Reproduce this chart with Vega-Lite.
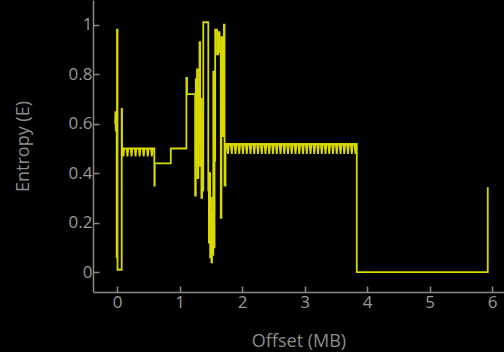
{
  "$schema": "https://vega.github.io/schema/vega-lite/v6.json",
  "width": 411,
  "height": 292,
  "autosize": {"type": "none"},
  "padding": {"left": 93, "top": 0, "right": 0, "bottom": 60},
  "background": "black",
  "config": {
    "view": {"stroke": null},
    "axis": {
      "grid": false,
      "domainColor": "#888888",
      "domainWidth": 1.5,
      "tickColor": "#888888",
      "tickWidth": 1.5,
      "tickSize": -6,
      "labelColor": "#999999",
      "labelFont": "Open Sans",
      "labelFontSize": 17,
      "titleColor": "#8c8c8c",
      "titleFont": "Open Sans",
      "titleFontSize": 18,
      "titleFontWeight": "normal"
    }
  },
  "data": {"values": [
    {"mb":-0.03,"e":0.60},{"mb":-0.025,"e":0.65},{"mb":-0.02,"e":0.57},{"mb":-0.015,"e":0.64},{"mb":-0.01,"e":0.58},{"mb":-0.005,"e":0.62},
    {"mb":-0.005,"e":0.06},{"mb":0.0,"e":0.06},{"mb":0.0,"e":0.98},{"mb":0.008,"e":0.98},{"mb":0.008,"e":0.01},{"mb":0.075,"e":0.01},{"mb":0.075,"e":0.66},{"mb":0.08,"e":0.66},{"mb":0.08,"e":0.50},
    {"mb":0.09,"e":0.50},{"mb":0.102,"e":0.468},{"mb":0.114,"e":0.50},
    {"mb":0.155,"e":0.50},{"mb":0.167,"e":0.468},{"mb":0.179,"e":0.50},
    {"mb":0.22,"e":0.50},{"mb":0.232,"e":0.468},{"mb":0.244,"e":0.50},
    {"mb":0.285,"e":0.50},{"mb":0.297,"e":0.468},{"mb":0.309,"e":0.50},
    {"mb":0.35,"e":0.50},{"mb":0.362,"e":0.468},{"mb":0.374,"e":0.50},
    {"mb":0.415,"e":0.50},{"mb":0.427,"e":0.468},{"mb":0.439,"e":0.50},
    {"mb":0.48,"e":0.50},{"mb":0.492,"e":0.468},{"mb":0.504,"e":0.50},
    {"mb":0.545,"e":0.50},{"mb":0.557,"e":0.468},{"mb":0.569,"e":0.50},
    {"mb":0.597,"e":0.50},{"mb":0.597,"e":0.35},{"mb":0.603,"e":0.35},{"mb":0.603,"e":0.44},{"mb":0.86,"e":0.44},{"mb":0.86,"e":0.50},
    {"mb":1.11,"e":0.50},{"mb":1.11,"e":0.785},{"mb":1.12,"e":0.785},{"mb":1.12,"e":0.72},{"mb":1.25,"e":0.72},
    {"mb":1.25,"e":0.31},{"mb":1.26,"e":0.31},{"mb":1.26,"e":0.78},{"mb":1.27,"e":0.78},{"mb":1.27,"e":0.44},{"mb":1.28,"e":0.44},{"mb":1.28,"e":0.82},{"mb":1.29,"e":0.82},{"mb":1.29,"e":0.38},{"mb":1.30,"e":0.38},{"mb":1.30,"e":0.74},{"mb":1.31,"e":0.74},{"mb":1.31,"e":0.52},{"mb":1.32,"e":0.52},{"mb":1.32,"e":0.93},{"mb":1.33,"e":0.93},{"mb":1.33,"e":0.43},{"mb":1.34,"e":0.43},{"mb":1.34,"e":0.70},{"mb":1.35,"e":0.70},{"mb":1.35,"e":0.30},{"mb":1.36,"e":0.30},{"mb":1.36,"e":0.62},{"mb":1.37,"e":0.62},{"mb":1.37,"e":0.33},{"mb":1.38,"e":0.33},
    {"mb":1.38,"e":1.01},{"mb":1.46,"e":1.01},{"mb":1.46,"e":0.33},{"mb":1.47,"e":0.33},{"mb":1.47,"e":0.12},{"mb":1.48,"e":0.12},{"mb":1.48,"e":0.40},{"mb":1.49,"e":0.40},{"mb":1.49,"e":0.06},{"mb":1.50,"e":0.06},{"mb":1.50,"e":0.30},{"mb":1.51,"e":0.30},{"mb":1.51,"e":0.04},{"mb":1.52,"e":0.04},{"mb":1.52,"e":0.24},{"mb":1.53,"e":0.24},{"mb":1.53,"e":0.07},{"mb":1.54,"e":0.07},{"mb":1.54,"e":0.81},{"mb":1.55,"e":0.81},{"mb":1.55,"e":0.10},{"mb":1.56,"e":0.10},{"mb":1.56,"e":0.45},{"mb":1.57,"e":0.45},
    {"mb":1.57,"e":0.98},{"mb":1.60,"e":0.98},{"mb":1.60,"e":0.88},{"mb":1.62,"e":0.88},{"mb":1.62,"e":0.97},{"mb":1.64,"e":0.97},{"mb":1.64,"e":0.89},{"mb":1.66,"e":0.89},{"mb":1.66,"e":0.22},{"mb":1.67,"e":0.22},{"mb":1.67,"e":0.95},{"mb":1.69,"e":0.95},{"mb":1.69,"e":0.55},{"mb":1.71,"e":0.55},{"mb":1.71,"e":1.0},{"mb":1.72,"e":1.0},{"mb":1.72,"e":0.35},{"mb":1.735,"e":0.35},{"mb":1.735,"e":0.518},
    {"mb":1.76,"e":0.518},{"mb":1.775,"e":0.478},{"mb":1.79,"e":0.518},
    {"mb":1.82,"e":0.518},{"mb":1.835,"e":0.478},{"mb":1.85,"e":0.518},
    {"mb":1.88,"e":0.518},{"mb":1.895,"e":0.478},{"mb":1.91,"e":0.518},
    {"mb":1.94,"e":0.518},{"mb":1.955,"e":0.478},{"mb":1.97,"e":0.518},
    {"mb":2.00,"e":0.518},{"mb":2.015,"e":0.478},{"mb":2.03,"e":0.518},
    {"mb":2.06,"e":0.518},{"mb":2.075,"e":0.478},{"mb":2.09,"e":0.518},
    {"mb":2.12,"e":0.518},{"mb":2.135,"e":0.478},{"mb":2.15,"e":0.518},
    {"mb":2.18,"e":0.518},{"mb":2.195,"e":0.478},{"mb":2.21,"e":0.518},
    {"mb":2.24,"e":0.518},{"mb":2.255,"e":0.478},{"mb":2.27,"e":0.518},
    {"mb":2.30,"e":0.518},{"mb":2.315,"e":0.478},{"mb":2.33,"e":0.518},
    {"mb":2.36,"e":0.518},{"mb":2.375,"e":0.478},{"mb":2.39,"e":0.518},
    {"mb":2.42,"e":0.518},{"mb":2.435,"e":0.478},{"mb":2.45,"e":0.518},
    {"mb":2.48,"e":0.518},{"mb":2.495,"e":0.478},{"mb":2.51,"e":0.518},
    {"mb":2.54,"e":0.518},{"mb":2.555,"e":0.478},{"mb":2.57,"e":0.518},
    {"mb":2.60,"e":0.518},{"mb":2.615,"e":0.478},{"mb":2.63,"e":0.518},
    {"mb":2.66,"e":0.518},{"mb":2.675,"e":0.478},{"mb":2.69,"e":0.518},
    {"mb":2.72,"e":0.518},{"mb":2.735,"e":0.478},{"mb":2.75,"e":0.518},
    {"mb":2.78,"e":0.518},{"mb":2.795,"e":0.478},{"mb":2.81,"e":0.518},
    {"mb":2.84,"e":0.518},{"mb":2.855,"e":0.478},{"mb":2.87,"e":0.518},
    {"mb":2.90,"e":0.518},{"mb":2.915,"e":0.478},{"mb":2.93,"e":0.518},
    {"mb":2.96,"e":0.518},{"mb":2.975,"e":0.478},{"mb":2.99,"e":0.518},
    {"mb":3.02,"e":0.518},{"mb":3.035,"e":0.478},{"mb":3.05,"e":0.518},
    {"mb":3.08,"e":0.518},{"mb":3.095,"e":0.478},{"mb":3.11,"e":0.518},
    {"mb":3.14,"e":0.518},{"mb":3.155,"e":0.478},{"mb":3.17,"e":0.518},
    {"mb":3.20,"e":0.518},{"mb":3.215,"e":0.478},{"mb":3.23,"e":0.518},
    {"mb":3.26,"e":0.518},{"mb":3.275,"e":0.478},{"mb":3.29,"e":0.518},
    {"mb":3.32,"e":0.518},{"mb":3.335,"e":0.478},{"mb":3.35,"e":0.518},
    {"mb":3.38,"e":0.518},{"mb":3.395,"e":0.478},{"mb":3.41,"e":0.518},
    {"mb":3.44,"e":0.518},{"mb":3.455,"e":0.478},{"mb":3.47,"e":0.518},
    {"mb":3.50,"e":0.518},{"mb":3.515,"e":0.478},{"mb":3.53,"e":0.518},
    {"mb":3.56,"e":0.518},{"mb":3.575,"e":0.478},{"mb":3.59,"e":0.518},
    {"mb":3.62,"e":0.518},{"mb":3.635,"e":0.478},{"mb":3.65,"e":0.518},
    {"mb":3.68,"e":0.518},{"mb":3.695,"e":0.478},{"mb":3.71,"e":0.518},
    {"mb":3.74,"e":0.518},{"mb":3.755,"e":0.478},{"mb":3.77,"e":0.518},
    {"mb":3.80,"e":0.518},{"mb":3.815,"e":0.478},{"mb":3.83,"e":0.518},
    {"mb":3.835,"e":0.518},{"mb":3.835,"e":0.0},{"mb":5.93,"e":0.0},{"mb":5.93,"e":0.343}
  ]},
  "mark": {"type": "line", "stroke": "#ffff00", "strokeWidth": 1.8, "opacity": 0.85, "strokeJoin": "miter", "clip": true},
  "encoding": {
    "x": {
      "field": "mb", "type": "quantitative",
      "scale": {"domain": [-0.384, 6.19], "nice": false, "zero": false},
      "axis": {"title": "Offset (MB)", "values": [0, 1, 2, 3, 4, 5, 6], "format": "d", "labelPadding": 8, "titlePadding": 22}
    },
    "y": {
      "field": "e", "type": "quantitative",
      "scale": {"domain": [-0.08, 1.1], "nice": false, "zero": false},
      "axis": {"title": "Entropy (E)", "values": [0, 0.2, 0.4, 0.6, 0.8, 1], "format": "~g", "labelPadding": 7, "titlePadding": 36}
    },
    "order": {"value": null}
  }
}
